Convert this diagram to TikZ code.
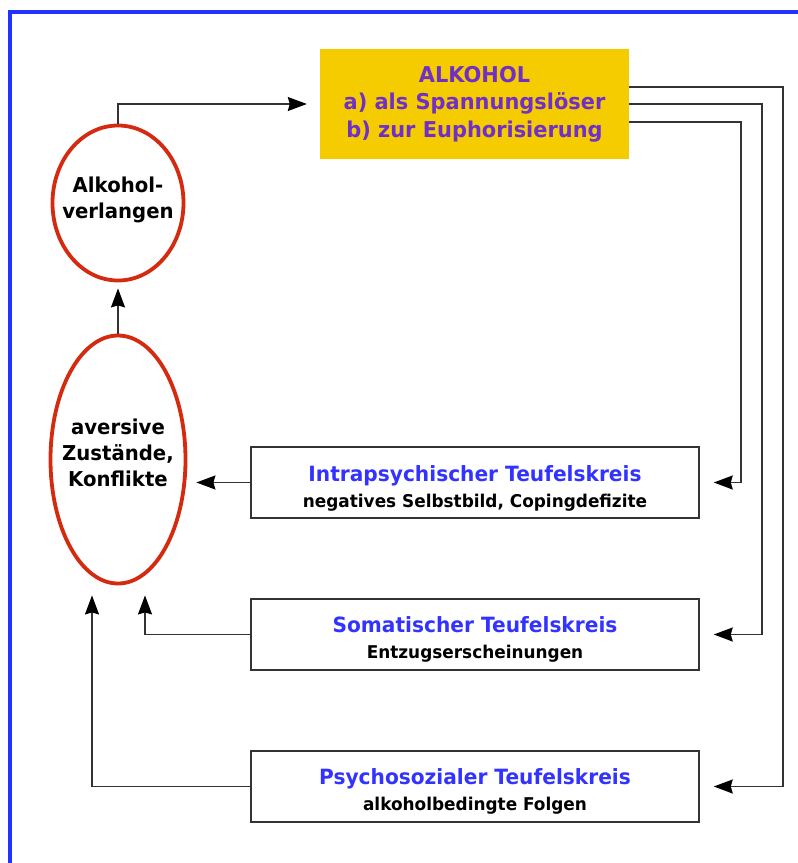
\documentclass[tikz,border=0pt]{standalone}
\usepackage{fontspec}
\setmainfont{DejaVu Sans}[FakeStretch=0.96]
\usetikzlibrary{shapes.geometric,arrows.meta,calc}
\definecolor{frameblue}{RGB}{34,51,255}
\definecolor{alkyellow}{RGB}{245,204,0}
\definecolor{alkpurple}{RGB}{112,48,200}
\definecolor{titleblue}{RGB}{51,51,255}
\definecolor{ellred}{RGB}{212,42,16}
\definecolor{linegray}{RGB}{51,51,51}
\tikzset{
  oval/.style={ellipse, draw=ellred, line width=3.8pt, inner sep=0pt},
  ovaltext/.style={align=center, inner sep=0pt, font=\bfseries\fontsize{20.5}{26}\selectfont},
  circlebox/.style={rectangle, draw=linegray, line width=1.5pt, minimum width=448pt,
    minimum height=71pt, inner sep=0pt},
  boxtext/.style={align=center, inner sep=0pt, font=\bfseries\fontsize{21}{27}\selectfont},
  conn/.style={draw=linegray, line width=1.6pt,
    -{Stealth[length=19pt,width=14pt,inset=2pt,color=black]}},
}
\newcommand{\subline}[1]{{\fontsize{17.6}{20}\selectfont #1}}
\begin{document}
\begin{tikzpicture}[x=1pt,y=-1pt]
\useasboundingbox (0,0) rectangle (798,863);
\clip (0,0) rectangle (798,863);
\draw[frameblue, line width=4pt] (10,11.5) rectangle (830,900);

\node[rectangle, fill=alkyellow, minimum width=309pt, minimum height=110pt, inner sep=0pt,
  align=center, text=alkpurple, font=\bfseries\fontsize{21.8}{27.5}\selectfont]
  (alk) at (474.5,104) {ALKOHOL\\a) als Spannungslöser\\b) zur Euphorisierung};

\node[oval, minimum width=131pt, minimum height=155pt] (verl) at (118,203) {};
\node[ovaltext] (verlt) at (118,200) {Alkohol-\\verlangen};
\node[oval, minimum width=135pt, minimum height=248pt] (av) at (118,459.5) {};
\node[ovaltext] (avt) at (118,453) {aversive\\Zustände,\\Konflikte};

\node[circlebox] (b1) at (475,482.5) {};
\node[circlebox] (b2) at (475,634.5) {};
\node[circlebox] (b3) at (475,786.5) {};

\node[boxtext] (t1) at (475,488)
  {\textcolor{titleblue}{Intrapsychischer Teufelskreis}\\[-1pt]\subline{negatives Selbstbild, Copingdefizite}};
\node[boxtext] (t2) at (475,639)
  {\textcolor{titleblue}{Somatischer Teufelskreis}\\[-1pt]\subline{Entzugserscheinungen}};
\node[boxtext] (t3) at (475,791)
  {\textcolor{titleblue}{Psychosozialer Teufelskreis}\\[-1pt]\subline{alkoholbedingte Folgen}};

% connectors
\draw[conn, shorten >=13pt] (verl.north) |- (alk.west);
\draw[conn, shorten >=6pt] (av.north) -- (verl.south);
\draw[conn] ([yshift=-18pt]alk.east) -- ++(112,0) |- ([xshift=14pt]b1.east);
\draw[conn] (alk.east) -- ++(133,0) |- ([xshift=14pt]b2.east);
\draw[conn] ([yshift=17pt]alk.east) -- ++(154,0) |- ([xshift=14pt]b3.east);
\draw[conn, shorten >=9pt] (b1.west) -- (b1.west -| av.east);
\coordinate (s2) at ([xshift=27pt,yshift=-10pt]av.south);
\coordinate (s3) at ([xshift=-26pt,yshift=-10pt]av.south);
\draw[conn] (b2.west) -| (s2);
\draw[conn] (b3.west) -| (s3);
\end{tikzpicture}
\end{document}
